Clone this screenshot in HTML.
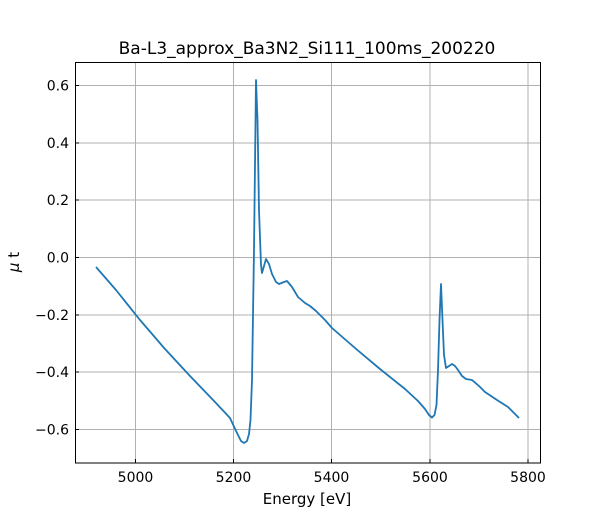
<!DOCTYPE html>
<html><head><style>body{margin:0;background:#fff}</style></head><body>
<svg width="600" height="520" xmlns="http://www.w3.org/2000/svg" font-family="DejaVu Sans, sans-serif">
<rect width="600" height="520" fill="#fff"/>
<g stroke="#b0b0b0" stroke-width="1">
<line x1="135.5" y1="62" x2="135.5" y2="463"/>
<line x1="233.5" y1="62" x2="233.5" y2="463"/>
<line x1="331.5" y1="62" x2="331.5" y2="463"/>
<line x1="430" y1="62" x2="430" y2="463"/>
<line x1="528" y1="62" x2="528" y2="463"/>
<line x1="75" y1="85.5" x2="540" y2="85.5"/>
<line x1="75" y1="143" x2="540" y2="143"/>
<line x1="75" y1="200" x2="540" y2="200"/>
<line x1="75" y1="257.5" x2="540" y2="257.5"/>
<line x1="75" y1="315" x2="540" y2="315"/>
<line x1="75" y1="372" x2="540" y2="372"/>
<line x1="75" y1="429.5" x2="540" y2="429.5"/>
</g>
<path d="M96,267 L116,290 L140,320 L165,349 L190,376 L215,402 L230,418 L237,433 L241,441 L244,443 L247,441 L249,434 L250.5,420 L252,380 L254,250 L256,80 L257.5,120 L259,210 L261,265 L262,273 L264,266 L266,259 L269,264 L272,274 L276,282 L279,284 L284,282 L287,281 L292,287 L298,297 L305,303 L310,306 L316,311 L325,320 L332,328 L355,348 L380,369 L405,389 L418,401 L425,409 L429,415 L432,417.5 L434.5,415 L436.5,405 L438,370 L439.5,320 L441,284 L442.5,320 L444,355 L446,368 L449,366 L452,364 L455,366 L458,370 L462,376 L466,379 L472,380 L479,386 L485,392 L491,396 L497,400 L508,407 L519,418" fill="none" stroke="#1f77b4" stroke-width="1.8" stroke-linejoin="round"/>
<rect x="75.5" y="62.5" width="465" height="400.5" fill="none" stroke="#000" stroke-width="1"/>
<g stroke="#000" stroke-width="1">
<line x1="135.5" y1="463" x2="135.5" y2="459"/><line x1="233.5" y1="463" x2="233.5" y2="459"/><line x1="331.5" y1="463" x2="331.5" y2="459"/><line x1="430" y1="463" x2="430" y2="459"/><line x1="528" y1="463" x2="528" y2="459"/>
<line x1="75" y1="85.5" x2="79" y2="85.5"/><line x1="75" y1="143" x2="79" y2="143"/><line x1="75" y1="200" x2="79" y2="200"/><line x1="75" y1="257.5" x2="79" y2="257.5"/><line x1="75" y1="315" x2="79" y2="315"/><line x1="75" y1="372" x2="79" y2="372"/><line x1="75" y1="429.5" x2="79" y2="429.5"/>
</g>
<g font-size="14" text-anchor="middle" fill="#000">
<text x="135.5" y="482">5000</text><text x="233.5" y="482">5200</text><text x="331.5" y="482">5400</text><text x="430" y="482">5600</text><text x="528" y="482">5800</text>
</g>
<g font-size="14" text-anchor="end" fill="#000">
<text x="69" y="90.5">0.6</text><text x="69" y="148">0.4</text><text x="69" y="205">0.2</text><text x="69" y="262.5">0.0</text><text x="69" y="320">−0.2</text><text x="69" y="377">−0.4</text><text x="69" y="434.5">−0.6</text>
</g>
<text x="307" y="504" font-size="15" text-anchor="middle">Energy [eV]</text>
<text transform="translate(19,262) rotate(-90)" font-size="15" text-anchor="middle"><tspan font-style="italic">μ</tspan> t</text>
<text x="307" y="54" font-size="17" text-anchor="middle">Ba-L3_approx_Ba3N2_Si111_100ms_200220</text>
</svg>
</body></html>
